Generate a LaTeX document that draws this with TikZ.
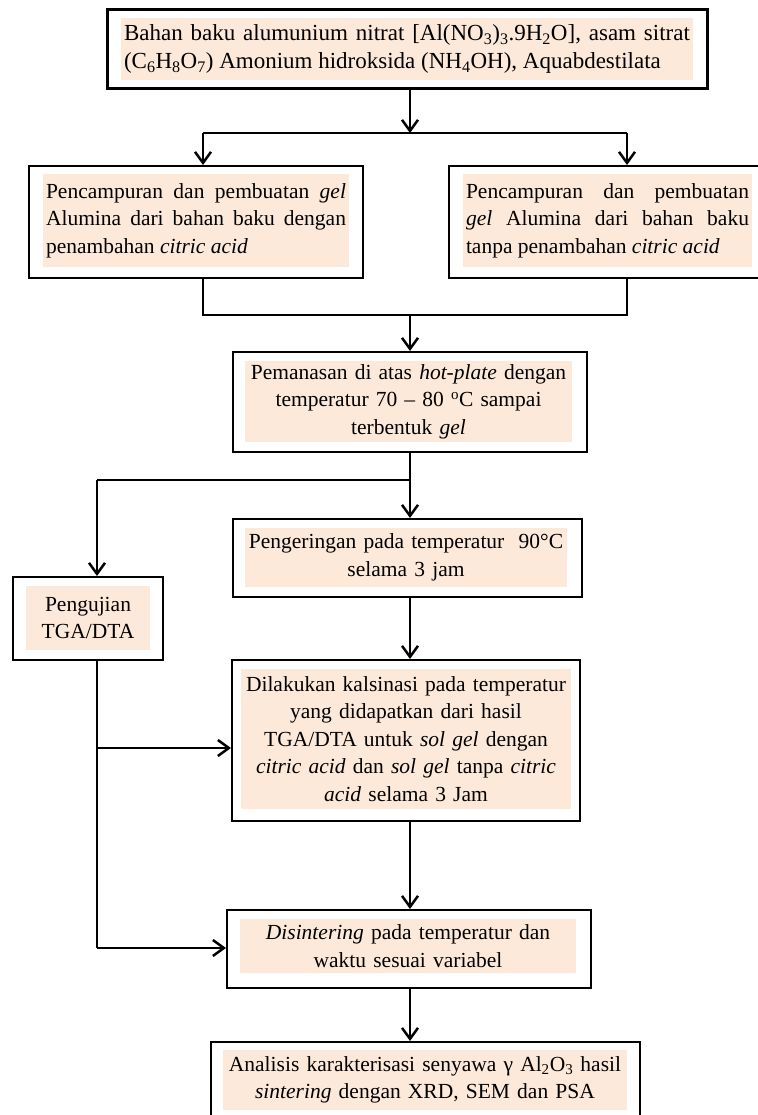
\documentclass[tikz,border=0pt]{standalone}
\usepackage{fontspec}
\setmainfont{Liberation Serif}
\usetikzlibrary{arrows.meta}
\definecolor{peach}{RGB}{253,233,217}
\tikzset{
  box/.style={draw, line width=2pt, inner sep=0pt},
  txt/.style={fill=peach, inner sep=3pt, align=center, font=\fontsize{21.5}{27.5}\selectfont},
  line/.style={line width=2.5pt},
  arr/.style={line width=2.5pt, -{Straight Barb[length=11pt,width=16pt,line width=2.5pt]}}
}
\begin{document}
\begin{tikzpicture}[x=1pt,y=-1pt]
\useasboundingbox (0,0) rectangle (757,1115);

% kotak teks (isi)
\node[txt, align=justify, text width=566pt, minimum height=62pt, font=\fontsize{23}{28.5}\selectfont] (bahanT) at (407,49) {Bahan baku alumunium nitrat [Al(NO\textsubscript{3})\textsubscript{3}.9H\textsubscript{2}O], asam sitrat\linebreak (C\textsubscript{6}H\textsubscript{8}O\textsubscript{7}) Amonium hidroksida (NH\textsubscript{4}OH), Aquabdestilata};
\node[txt, align=justify, text width=300pt, minimum height=93pt] (mixAT) at (196,220.5) {Pencampuran dan pembuatan \textit{gel}\linebreak Alumina dari bahan baku dengan\linebreak penambahan \textit{citric acid}};
\node[txt, align=justify, text width=283pt, minimum height=93pt] (mixBT) at (607.5,220.5) {Pencampuran dan pembuatan\linebreak \textit{gel} Alumina dari bahan baku\linebreak tanpa penambahan \textit{citric acid}};
\node[txt, text width=321pt, minimum height=81pt] (panasT) at (408.5,401.5) {Pemanasan di atas \textit{hot-plate} dengan\\ temperatur 70 -- 80 \textsuperscript{o}C sampai\\ terbentuk \textit{gel}};
\node[txt, text width=316pt, minimum height=59pt] (keringT) at (406,557.5) {Pengeringan pada temperatur\ \ 90°C\\ selama 3 jam};
\node[txt, text width=118pt, minimum height=64pt] (ujiT) at (88,618) {Pengujian\\ TGA/DTA};
\node[txt, text width=324pt, minimum height=140pt] (kalsinT) at (406,739) {Dilakukan kalsinasi pada temperatur\\ yang didapatkan dari hasil\\ TGA/DTA untuk \textit{sol gel} dengan\\ \textit{citric acid} dan \textit{sol gel} tanpa \textit{citric}\\ \textit{acid} selama 3 Jam};
\node[txt, text width=330pt, minimum height=54pt] (sinterT) at (408,946) {\textit{Disintering} pada temperatur dan\\ waktu sesuai variabel};
\node[txt, text width=398pt, minimum height=60pt] (analisisT) at (425,1080) {Analisis karakterisasi senyawa γ Al\textsubscript{2}O\textsubscript{3} hasil\\ \textit{sintering} dengan XRD, SEM dan PSA};

% kotak luar
\node[box, line width=3pt, minimum width=600pt, minimum height=79pt] (bahan) at (407,49.5) {};
\node[box, minimum width=334pt, minimum height=112pt] (mixA) at (196,222) {};
\node[box, minimum width=321pt, minimum height=112pt] (mixB) at (609.5,222) {};
\node[box, minimum width=354pt, minimum height=100pt] (panas) at (410,402) {};
\node[box, minimum width=349pt, minimum height=78pt] (kering) at (407.5,558) {};
\node[box, minimum width=150pt, minimum height=83pt] (uji) at (88,618.5) {};
\node[box, minimum width=348pt, minimum height=161pt] (kalsin) at (406,740.5) {};
\node[box, minimum width=364pt, minimum height=78pt] (sinter) at (409,949) {};
\node[box, minimum width=429pt, minimum height=83pt] (analisis) at (425.5,1083.5) {};

% titik cabang
\coordinate (s1) at (410,133);
\coordinate (s2) at (410,315);
\coordinate (s3) at (410,480);
\coordinate (l1) at (203,133);
\coordinate (r1) at (627,133);
\coordinate (l2) at (203,315);
\coordinate (r2) at (627,315);
\coordinate (u1) at (97,480);
\coordinate (u2) at (97,748);
\coordinate (u3) at (97,948);

\draw[arr] (bahan.south -| s1) -- (s1);
\draw[line] (l1) -- (r1);
\draw[arr] (l1) -- (l1 |- mixA.north);
\draw[arr] (r1) -- (r1 |- mixB.north);
\draw[line] (l1 |- mixA.south) -- (l2) -- (r2) -- (r1 |- mixB.south);
\draw[arr] (s2) -- (s2 |- panas.north);
\draw[line] (s2 |- panas.south) -- (s3) -- (u1);
\draw[arr] (u1) -- (u1 |- uji.north);
\draw[arr] (s3) -- (s3 |- kering.north);
\draw[arr] (s3 |- kering.south) -- (s3 |- kalsin.north);
\draw[line] (u1 |- uji.south) -- (u3);
\draw[arr] (u2) -- (u2 -| kalsin.west);
\draw[arr] (u3) -- (u3 -| sinter.west);
\draw[arr] (s3 |- kalsin.south) -- (s3 |- sinter.north);
\draw[arr] (s3 |- sinter.south) -- (s3 |- analisis.north);
\end{tikzpicture}
\end{document}
